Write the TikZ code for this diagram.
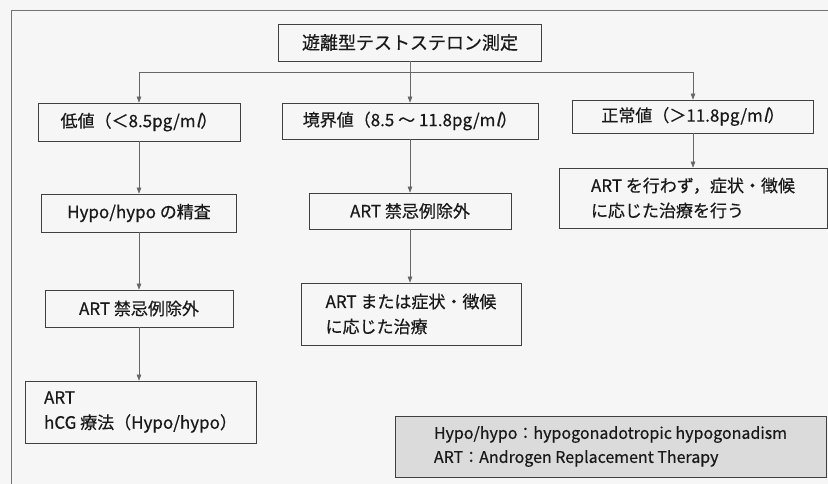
\documentclass[tikz,border=0pt]{standalone}
\usepackage{fontspec}
\setmainfont[FakeBold=0.5]{Noto Sans CJK JP}
\newfontfamily\slfont[FakeSlant=0.25,FakeBold=0.5]{Noto Sans CJK JP}
\usetikzlibrary{arrows.meta}
\newcommand{\mlunit}{m{\slfont l}}
\begin{document}
\begin{tikzpicture}[x=1pt,y=-1pt,
  box/.style={draw=black!75, line width=0.7pt, rectangle, inner sep=0pt, align=left,
    font=\fontsize{17}{25}\selectfont, text=black!90},
  arr/.style={draw=black!60, line width=0.6pt, -{Triangle[length=6pt,width=4.5pt]}},
  frameline/.style={draw=black!55, line width=0.7pt}]
\useasboundingbox (0,0) rectangle (828,484);
\fill[gray!7] (0,0) rectangle (828,484);
\draw[frameline] (828,10.5) -- (11,10.5) -- (11,484);

\node[box, minimum width=263pt, minimum height=37pt, font=\fontsize{18}{22}\selectfont] (top) at (410,42.5) {遊離型テストステロン測定};

\node[box, minimum width=202pt, minimum height=38pt] (low) at (139,122) {低値（＜8.5pg/\mlunit）};
\node[box, minimum width=256pt, minimum height=36pt] (border) at (410,121) {境界値（8.5 ～ 11.8pg/\mlunit）};
\node[box, minimum width=241pt, minimum height=33pt] (normal) at (693,116.5) {正常値（＞11.8pg/\mlunit）};

\node[box, minimum width=195pt, minimum height=38pt] (hypo) at (139,213) {Hypo/hypo の精査};
\node[box, minimum width=202pt, minimum height=36pt] (artmid) at (410,211) {ART 禁忌例除外};
\node[box, minimum width=268pt, minimum height=60pt] (rightbox) at (693,198) {ART を行わず，症状・徴候\\に応じた治療を行う};

\node[box, minimum width=188pt, minimum height=37pt] (artleft) at (139,308.5) {ART 禁忌例除外};
\node[box, minimum width=220pt, minimum height=62pt] (artor) at (411,314) {ART または症状・徴候\\に応じた治療};

\node[box, minimum width=231pt, minimum height=62pt] (final) at (140.5,412) {ART\\hCG 療法（Hypo/hypo）};

\node[box, fill=gray!28, minimum width=431pt, minimum height=61pt, font=\fontsize{16}{24}\selectfont] (legend) at (610.5,446.5) {Hypo/hypo：hypogonadotropic hypogonadism\\ART：Androgen Replacement Therapy};

\coordinate (hj) at (410,72);
\draw[frameline, line width=0.8pt] (top.south) -- (hj);
\draw[arr] (hj) -| (low.north);
\draw[arr] (hj) -- (border.north);
\draw[arr] (hj) -| (normal.north);

\draw[arr] (low.south) -- (hypo.north);
\draw[arr] (hypo.south) -- (artleft.north);
\draw[arr] (artleft.south) -- (artleft.south |- final.north);
\draw[arr] (border.south) -- (artmid.north);
\draw[arr] (artmid.south) -- (artmid.south |- artor.north);
\draw[arr] (normal.south) -- (rightbox.north);
\end{tikzpicture}
\end{document}
